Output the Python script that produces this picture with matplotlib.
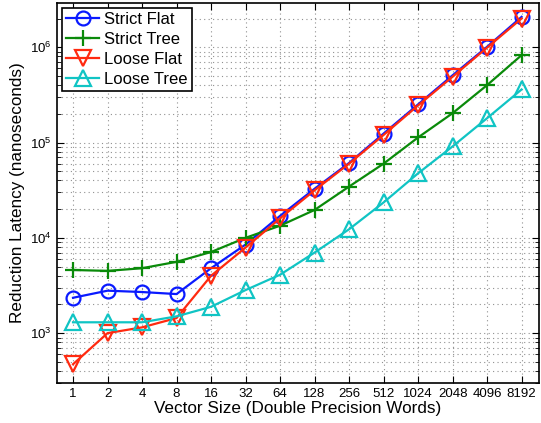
import matplotlib
matplotlib.use("Agg")
import matplotlib.pyplot as plt
from matplotlib.ticker import LogLocator, FixedLocator, FixedFormatter, NullFormatter

plt.rcParams['font.family'] = ['Liberation Sans', 'DejaVu Sans']
plt.rcParams['mathtext.fontset'] = 'custom'
plt.rcParams['mathtext.rm'] = 'Liberation Sans'

sizes = [1, 2, 4, 8, 16, 32, 64, 128, 256, 512, 1024, 2048, 4096, 8192]
size_labels = [str(s) for s in sizes]

strict_flat = [2350, 2790, 2700, 2570, 4800, 8500, 17000, 32700, 61000,
               124000, 251000, 507000, 1010000, 2080000]
strict_tree = [4600, 4500, 4800, 5600, 7100, 10000, 13400, 19600, 34500,
               60000, 113000, 203000, 400000, 825000]
loose_flat = [472, 1000, 1150, 1440, 4000, 7900, 16000, 31500, 60000,
              120000, 245000, 490000, 990000, 2000000]
loose_tree = [1300, 1300, 1300, 1500, 1890, 2830, 4100, 7000, 12300,
              23500, 47500, 91000, 180000, 360000]

fig = plt.figure(figsize=(5.41, 4.23), dpi=100)
ax = fig.add_axes([0.105, 0.0946, 0.891, 0.898])

ax.plot(sizes, strict_flat, '-o', color='#0a1aff', lw=1.6, ms=10,
        mfc='none', mew=1.6, label='Strict Flat')
ax.plot(sizes, strict_tree, '-+', color='#0a8a0a', lw=1.6, ms=11,
        mew=1.6, label='Strict Tree')
ax.plot(sizes, loose_flat, '-v', color='#ff2a10', lw=1.6, ms=11,
        mfc='none', mew=1.6, label='Loose Flat')
ax.plot(sizes, loose_tree, '-^', color='#10c4c4', lw=1.6, ms=11,
        mfc='none', mew=1.6, label='Loose Tree')

ax.set_xscale('log', base=2)
ax.set_yscale('log')
ax.set_xlim(2 ** -0.47, 2 ** 13.5)
ax.set_ylim(300, 2.9e6)

ax.xaxis.set_major_locator(FixedLocator(sizes))
ax.xaxis.set_major_formatter(FixedFormatter(size_labels))
ax.xaxis.set_minor_locator(FixedLocator([]))
ax.yaxis.set_major_locator(LogLocator(base=10))
ax.yaxis.set_minor_locator(LogLocator(base=10, subs=range(2, 10)))
ax.yaxis.set_minor_formatter(NullFormatter())

ax.tick_params(which='both', direction='in', top=True, right=True,
               labelsize=9.5)
ax.tick_params(which='major', length=5)
ax.tick_params(which='minor', length=3)
ax.grid(True, which='major', ls=(0, (1, 3)), color='#909090', lw=0.8)
ax.grid(True, which='minor', axis='y', ls=(0, (1, 3)), color='#909090', lw=0.8)
for sp in ax.spines.values():
    sp.set_linewidth(1.2)

ax.set_xlabel('Vector Size (Double Precision Words)', fontsize=12.3, labelpad=1)
ax.set_ylabel('Reduction Latency (nanoseconds)', fontsize=12.3, labelpad=4)

leg = ax.legend(loc='upper left', fontsize=12, fancybox=False,
                edgecolor='black', framealpha=1, handlelength=2.0,
                borderpad=0.25, labelspacing=0.3, handletextpad=0.3,
                borderaxespad=0.3)
leg.get_frame().set_linewidth(1.2)

fig.savefig('out.png', dpi=100)
